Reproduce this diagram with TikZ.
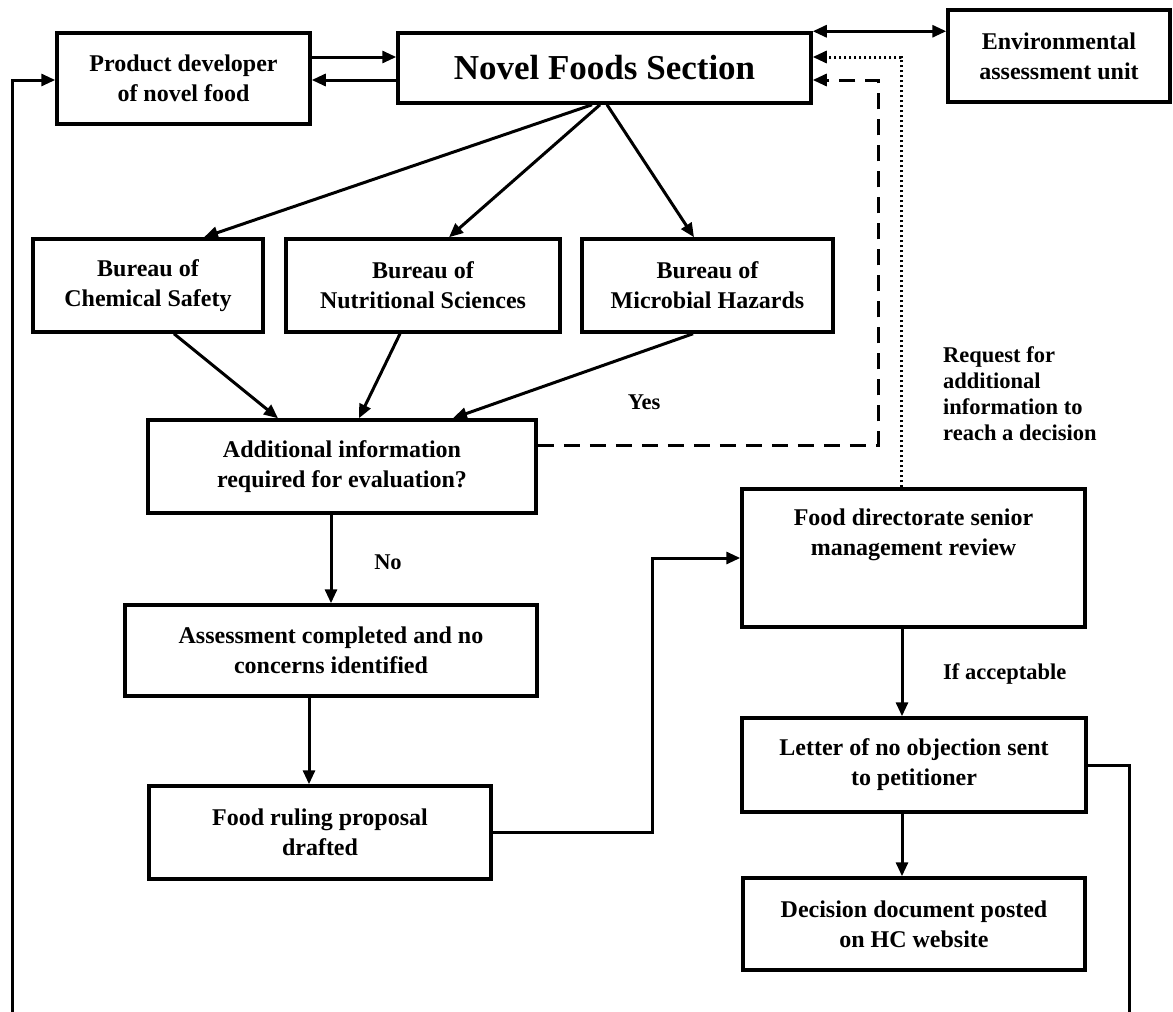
\documentclass[tikz,border=0pt]{standalone}
\usepackage{fontspec}
\setmainfont{Liberation Serif}
\usetikzlibrary{arrows.meta,calc}
\begin{document}
\begin{tikzpicture}[x=1pt,y=-1pt,
  box/.style={draw,line width=3.5pt,inner sep=0pt,align=center,font=\fontsize{24}{30}\selectfont\bfseries},
  conn/.style={line width=3pt},
  tip/.tip={Triangle[length=14pt,width=12pt]},
  arr/.style={conn,-tip},
  lbl/.style={font=\fontsize{22.5}{26}\selectfont\bfseries,inner sep=0pt,align=left},
  dashline/.style={conn,dash pattern=on 16pt off 10pt},
  dotline/.style={conn,dash pattern=on 2.5pt off 2.5pt}]
\useasboundingbox (0,0) rectangle (1173,1012);
% boxes
\node[box,minimum width=253pt,minimum height=91pt] (pd) at (183.5,78.5) {Product developer\\of novel food};
\node[box,minimum width=413pt,minimum height=70pt,font=\fontsize{35}{40}\selectfont\bfseries] (nfs) at (604.5,68) {Novel Foods Section};
\node[box,minimum width=222pt,minimum height=92pt] (env) at (1059,56) {Environmental\\assessment unit};
\node[box,minimum width=230pt,minimum height=93pt] (chem) at (148,285.5) {Bureau of\\Chemical Safety};
\node[box,minimum width=274pt,minimum height=93pt] (nutr) at (423,285.5) {Bureau of\\Nutritional Sciences};
\node[box,minimum width=251pt,minimum height=93pt] (micro) at (707.5,285.5) {Bureau of\\Microbial Hazards};
\node[box,minimum width=388pt,minimum height=93pt] (addl) at (342,466.5) {Additional information\\required for evaluation?};
\node[box,minimum width=343pt,minimum height=138pt] (fd) at (913.5,558) {};
\node[box,draw=none] (fdt) at (913.5,507) [anchor=north] {Food directorate senior\\management review};
\node[box,minimum width=412pt,minimum height=91pt] (assess) at (331,650.5) {Assessment completed and no\\concerns identified};
\node[box,minimum width=342pt,minimum height=93pt] (rule) at (320,832.5) {Food ruling proposal\\drafted};
\node[box,minimum width=344pt,minimum height=94pt] (letter) at (914,765) {Letter of no objection sent\\to petitioner};
\node[box,minimum width=342pt,minimum height=92pt] (dec) at (914,924) {Decision document posted\\on HC website};
% labels
\node[lbl] (yes) at (644,402) {Yes};
\node[lbl] (no) at (388,562) {No};
\node[lbl,anchor=west] (ifacc) at (943,674) {If acceptable};
\node[lbl,anchor=north west] (req) at (943,346) {Request for\\additional\\information to\\reach a decision};
% free ends
\coordinate (bl) at (12,1012);
\coordinate (br) at (1129,1012);
% connectors
\draw[arr] (pd.east |- 0,57) -- (nfs.west |- 0,57);
\draw[arr] (nfs.west |- 0,80) -- (pd.east |- 0,80);
\draw[conn,tip-tip] (nfs.north east) -- (env.west |- nfs.north east);
\draw[arr] ([xshift=-12.5pt]nfs.south) -- ([xshift=56pt]chem.north);
\draw[arr] ([xshift=-4.5pt]nfs.south) -- ([xshift=26pt]nutr.north);
\draw[arr] ([xshift=2.5pt]nfs.south) -- ([xshift=-13.5pt]micro.north);
\draw[arr] ([xshift=26pt]chem.south) -- ([xshift=-64pt]addl.north);
\draw[arr] ([xshift=-23pt]nutr.south) -- ([xshift=17pt]addl.north);
\draw[arr] ([xshift=-14.5pt]micro.south) -- ([xshift=111pt]addl.north);
\draw[arr] (assess.north |- addl.south) -- (assess.north);
\draw[arr] ([xshift=-22pt]assess.south) -- ([xshift=-11pt]rule.north);
\draw[arr] (rule.east) -- ++(160,0) |- (fd.west);
\draw[arr] ([xshift=-11.5pt]fd.south) -- ([xshift=-12pt]letter.north);
\draw[arr] ([xshift=-12pt]letter.south) -- ([xshift=-12pt]dec.north);
\draw[conn] (letter.east) -| (br);
\draw[arr] (bl) |- (pd.west |- 0,80);
\draw[dashline,-tip] (addl.east |- 0,445) -- (878,445) -- (878,80) -- (nfs.east |- 0,80);
\draw[dotline,-tip] (fd.north -| 901,0) -- (901,57) -- (nfs.east |- 0,57);
\end{tikzpicture}
\end{document}
